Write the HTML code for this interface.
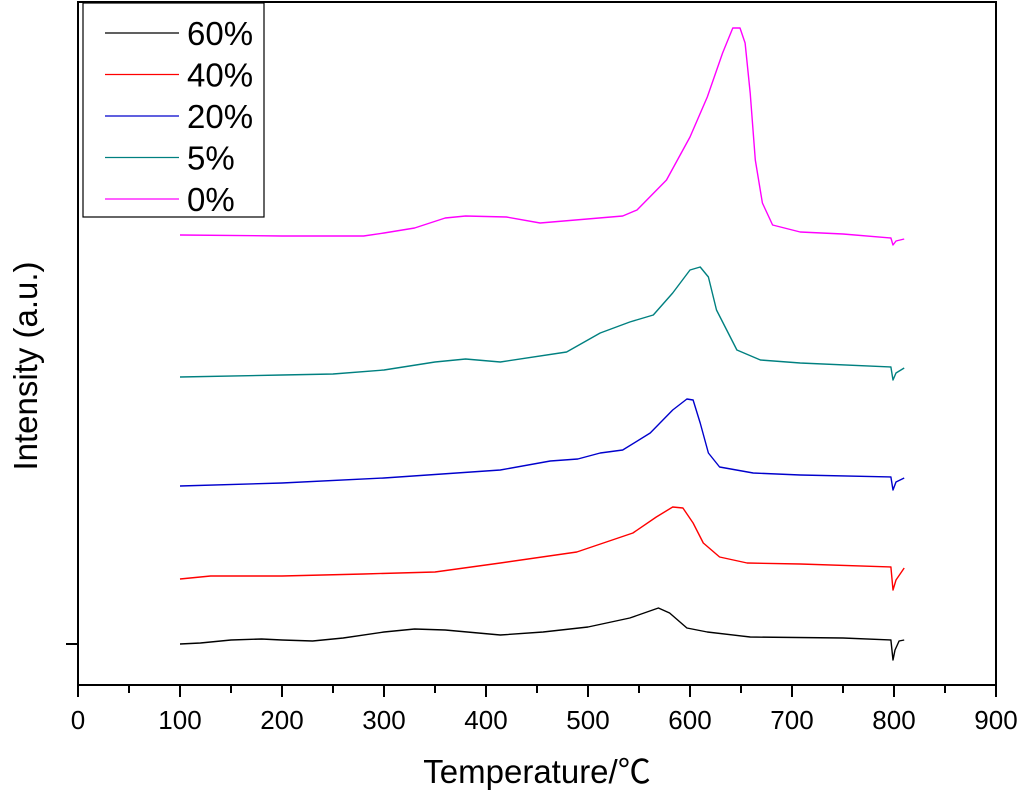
<!DOCTYPE html>
<html><head><meta charset="utf-8">
<style>
body{margin:0;background:#fff;}
svg text{font-family:"Liberation Sans","Noto Sans CJK SC",sans-serif;fill:#000;}
</style></head>
<body>
<svg id="chart" width="1024" height="793" viewBox="0 0 1024 793" xmlns="http://www.w3.org/2000/svg">
<rect x="78" y="2" width="918" height="683" fill="none" stroke="#000" stroke-width="2"/>
<g id="xticks"></g>
<line x1="66" y1="644" x2="78" y2="644" stroke="#000" stroke-width="2"/>
<g id="series"></g>
<text x="537" y="783" font-size="33" text-anchor="middle">Temperature/℃</text>
<text x="0" y="0" font-size="33" text-anchor="middle" transform="translate(37,366) rotate(-90)">Intensity (a.u.)</text>
<g>
<rect x="83" y="3" width="181" height="214" fill="#fff" stroke="#000" stroke-width="1.2"/>
<g id="legend-entries"></g>
</g>
</svg>
<script>
const xTickLabels=[0,100,200,300,400,500,600,700,800,900];
const seriesNames=["60%","40%","20%","5%","0%"];
const seriesColors=["#000000","#ff0000","#0000cc","#008080","#ff00ff"];
const x60=[100,120,150,180,200,230,260,300,330,360,414,456,500,541,569,580,597,617,659,750,797,799,801,805,810];
const y60=[41,42,45,46,45,44,47,53,56,55,50,53,58,67,77,72,57,53,48,47,45,25,35,44,45];
const x40=[100,130,200,280,350,414,489,544,567,583,593,603,613,629,656,708,797,799,802,810];
const y40=[106,109,109,111,113,122,133,152,168,178,177,162,142,128,122,121,118,95,105,117];
const x20=[100,200,300,414,463,490,512,534,561,583,597,603,610,618,629,662,708,797,799,802,810];
const y20=[199,202,207,215,224,226,232,235,252,275,286,285,262,232,218,212,210,208,195,203,207];
const x5=[100,200,250,300,350,380,414,479,512,541,564,583,600,610,618,626,646,669,708,797,799,802,810];
const y5=[308,310,311,315,323,326,323,333,352,363,370,392,415,418,408,375,335,325,322,318,305,312,317];
const x0=[100,200,280,300,330,360,380,420,453,534,548,577,600,617,632,642,649,654,659,664,671,681,708,750,797,799,802,810];
const y0=[450,449,449,452,457,467,469,468,462,469,475,505,548,588,632,657,657,642,592,525,482,460,453,451,447,440,444,446];

const NS="http://www.w3.org/2000/svg";
function xs(v){return 78+v*(918/900);}
function ys(v){return 685-v;}
const xt=document.getElementById('xticks');
for(let i=0;i<=18;i++){
  const v=i*50;
  const l=document.createElementNS(NS,'line');
  
  
  l.setAttribute('x1',xs(v));l.setAttribute('x2',xs(v));
  l.setAttribute('y1',685);l.setAttribute('y2',i%2===0?697:693);
  l.setAttribute('stroke','#000');l.setAttribute('stroke-width','2');
  xt.appendChild(l);
}
xTickLabels.forEach(v=>{
  const t=document.createElementNS(NS,'text');
  
  
  t.setAttribute('x',xs(v));t.setAttribute('y',729);
  t.setAttribute('font-size','26');t.setAttribute('text-anchor','middle');
  t.textContent=v;xt.appendChild(t);
});
const allX=[x60,x40,x20,x5,x0], allY=[y60,y40,y20,y5,y0];
const sg=document.getElementById('series');
allX.forEach((xa,k)=>{
  const p=document.createElementNS(NS,'path');
  
  
  p.setAttribute('d',xa.map((x,i)=>(i?'L':'M')+xs(x).toFixed(1)+','+ys(allY[k][i]).toFixed(1)).join(''));
  p.setAttribute('fill','none');p.setAttribute('stroke',seriesColors[k]);p.setAttribute('stroke-width','1.4');
  p.setAttribute('stroke-linejoin','round');
  sg.appendChild(p);
});
const lg=document.getElementById('legend-entries');
seriesNames.forEach((n,k)=>{
  const y=33+k*41.5;
  const l=document.createElementNS(NS,'line');
  
  
  l.setAttribute('x1',105);l.setAttribute('x2',179);l.setAttribute('y1',y);l.setAttribute('y2',y);
  l.setAttribute('stroke',seriesColors[k]);l.setAttribute('stroke-width','1.3');
  lg.appendChild(l);
  const t=document.createElementNS(NS,'text');
  
  
  t.setAttribute('x',187);t.setAttribute('y',y+12);t.setAttribute('font-size','33');
  t.textContent=n;lg.appendChild(t);
});
</script>
</body></html>
